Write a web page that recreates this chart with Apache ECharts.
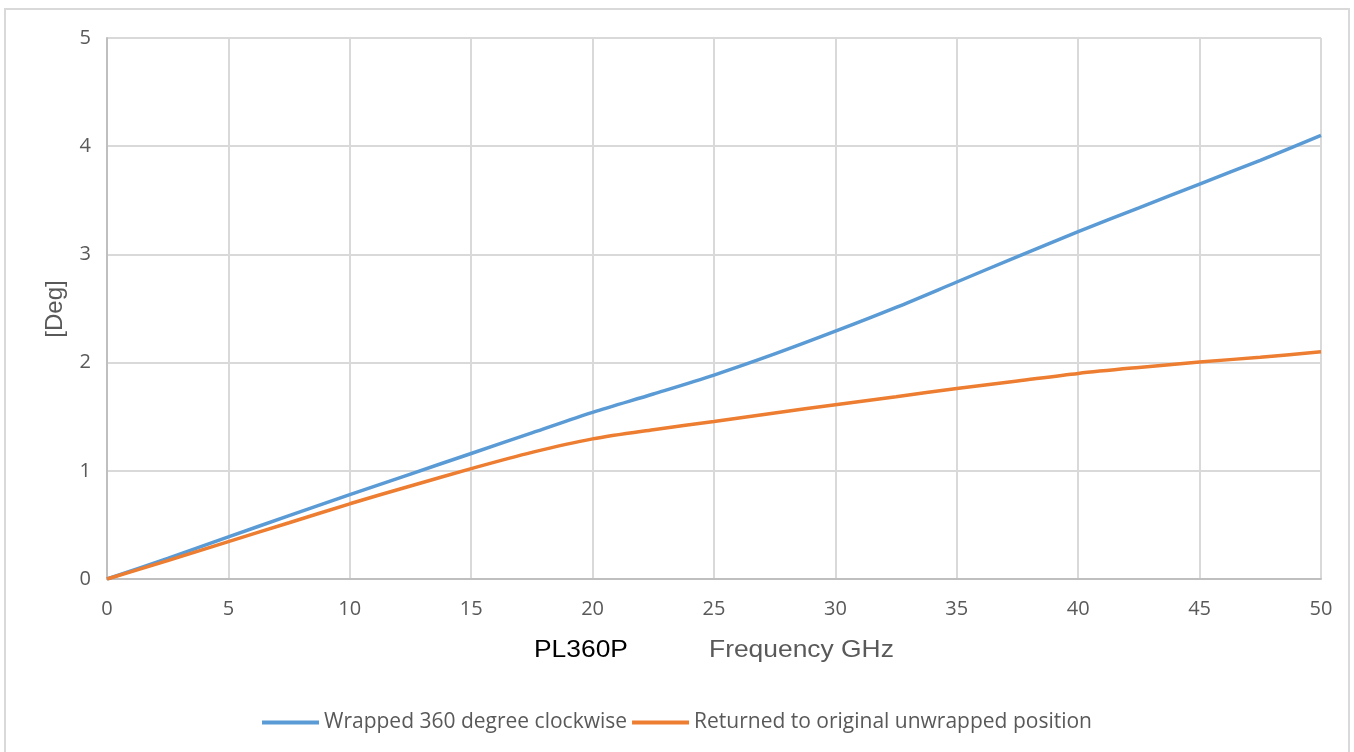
<!DOCTYPE html>
<html>
<head>
<meta charset="utf-8">
<script src="https://cdn.jsdelivr.net/npm/echarts@6/dist/echarts.min.js"></script>
<style>html,body{margin:0;padding:0;background:#fff;}#c{width:1354px;height:752px;}</style>
</head>
<body>
<div id="c"></div>
<script>
const freq = [0, 2.5, 5, 7.5, 10, 12.5, 15, 17.5, 20, 22.5, 25, 27.5, 30, 32.5, 35, 37.5, 40, 42.5, 45, 47.5, 50];
const wrapped = [0, 0.19, 0.39, 0.585, 0.78, 0.97, 1.16, 1.35, 1.54, 1.71, 1.885, 2.08, 2.29, 2.51, 2.745, 2.98, 3.21, 3.43, 3.65, 3.87, 4.10];
const returned = [0, 0.17, 0.345, 0.52, 0.695, 0.86, 1.02, 1.17, 1.295, 1.38, 1.455, 1.535, 1.61, 1.685, 1.76, 1.83, 1.90, 1.955, 2.005, 2.05, 2.10];
const seriesNames = ['Wrapped 360 degree clockwise', 'Returned to original unwrapped position'];
const colors = ['#5b9bd5', '#ed7d31'];

const chart = echarts.init(document.getElementById('c'));
const pair = (ys) => freq.map((x, i) => [x, ys[i]]);
chart.setOption({
  animation: false,
  color: colors,
  grid: { left: 107, right: 33, top: 38, bottom: 173, containLabel: false },
  legend: {
    top: 707, left: 'center',
    itemWidth: 57, itemHeight: 4, itemGap: 5,
    icon: 'rect',
    textStyle: { fontFamily: 'Open Sans', fontSize: 21, color: '#595959' },
    data: seriesNames
  },
  xAxis: {
    type: 'value', min: 0, max: 50, interval: 5,
    axisLine: { show: true, lineStyle: { color: '#bfbfbf', width: 2 } },
    axisTick: { show: false },
    axisLabel: { fontFamily: 'Open Sans', fontSize: 20, color: '#595959', margin: 20 },
    splitLine: { show: true, lineStyle: { color: '#d9d9d9', width: 2 } }
  },
  yAxis: {
    type: 'value', min: 0, max: 5, interval: 1,
    axisLine: { show: true, lineStyle: { color: '#bfbfbf', width: 2 } },
    axisTick: { show: false },
    axisLabel: { fontFamily: 'Open Sans', fontSize: 20, color: '#595959', margin: 16 },
    splitLine: { show: true, lineStyle: { color: '#d9d9d9', width: 2 } }
  },
  graphic: [
    { type: 'rect', shape: { x: 5, y: 9, width: 1344, height: 770 }, style: { fill: 'none', stroke: '#d9d9d9', lineWidth: 2 }, silent: true, z: -1 },
    { type: 'text', x: 55, y: 309, rotation: Math.PI / 2, style: { text: '[Deg]', font: '24px "Liberation Sans", Arial', fill: '#595959', textAlign: 'center', textVerticalAlign: 'middle' } },
    { type: 'text', x: 534, y: 650, scaleX: 1.1, style: { text: 'PL360P', font: '24px "Liberation Sans", Arial', fill: '#000000', textAlign: 'left', textVerticalAlign: 'middle' } },
    { type: 'text', x: 709, y: 650, scaleX: 1.1, style: { text: 'Frequency GHz', font: '24px "Liberation Sans", Arial', fill: '#595959', textAlign: 'left', textVerticalAlign: 'middle' } }
  ],
  series: [
    { name: seriesNames[0], type: 'line', data: pair(wrapped), smooth: 0.3, showSymbol: false, lineStyle: { width: 3.5 } },
    { name: seriesNames[1], type: 'line', data: pair(returned), smooth: 0.3, showSymbol: false, lineStyle: { width: 3.5 } }
  ]
});
</script>
</body>
</html>
